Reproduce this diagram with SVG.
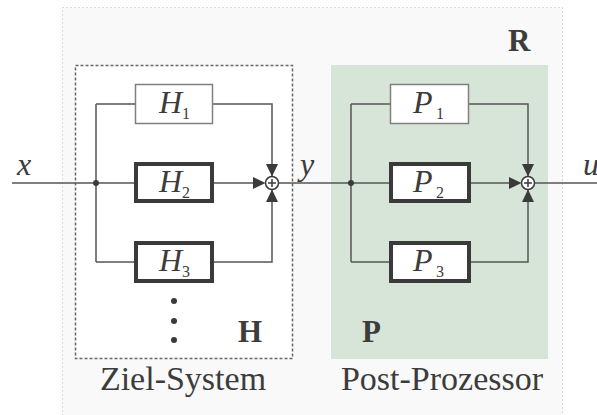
<svg xmlns="http://www.w3.org/2000/svg" width="597" height="415" viewBox="0 0 597 415">
<style>
.ln{stroke:#555;stroke-width:1.5;fill:none}
.thin{fill:#fff;stroke:#808080;stroke-width:1.5}
.thick{fill:#fff;stroke:#3a3a3a;stroke-width:4}
text{font-family:"Liberation Serif","Times New Roman",serif;fill:#3c3c3c}
.it{font-style:italic;font-size:32px}
.sub{font-size:16px}
.bold{font-weight:bold;font-size:31px}
.cap{font-size:34px;text-anchor:middle}
.arr{fill:#3a3a3a}
.sum{fill:#fff;stroke:#3a3a3a;stroke-width:1.5}
.dot{fill:#3a3a3a}
</style>
<g id="R">
<rect x="62.5" y="7.5" width="500" height="420" fill="#f9f9f9" stroke="#bbb" stroke-width="1" stroke-dasharray="1 3"/>
<text class="bold" x="508" y="51">R</text>
</g>
<g id="H">
<rect x="75.5" y="65.5" width="217" height="293" fill="#fff" stroke="#666" stroke-width="1.5" stroke-dasharray="3 2"/>
<text class="bold" x="238" y="342">H</text>
<text class="cap" x="183" y="390">Ziel-System</text>
</g>
<g id="P">
<rect x="331" y="65" width="217" height="294" fill="#d7e5d9"/>
<text class="bold" x="362" y="342">P</text>
<text class="cap" x="442" y="390">Post-Prozessor</text>
</g>
<g id="connectors">
<path class="ln" d="M12 183H134M96 104V262M96 104H135M213 104H272V177M214 183H254M96 262H134M214 262H272V189"/>
<path class="ln" d="M278.5 183H389M351 104V262M351 104H390M469 104H528V177M471 183H510M351 262H389M471 262H528V189M534.5 183H597"/>
<circle class="dot" cx="96" cy="183" r="3"/>
<circle class="dot" cx="351" cy="183" r="3"/>
</g>
<g id="H1"><rect class="thin" x="135.5" y="84.5" width="77" height="39"/><text class="it" x="159" y="113">H</text><text class="sub" x="182" y="119">1</text></g>
<g id="H2"><rect class="thick" x="136" y="164" width="76" height="37"/><text class="it" x="159" y="192">H</text><text class="sub" x="182" y="198">2</text></g>
<g id="H3"><rect class="thick" x="136" y="243" width="76" height="38"/><text class="it" x="159" y="271">H</text><text class="sub" x="182" y="277">3</text></g>
<g id="dots"><circle class="dot" cx="174" cy="301" r="3"/><circle class="dot" cx="174" cy="321" r="3"/><circle class="dot" cx="174" cy="340" r="3"/></g>
<g id="P1"><rect class="thin" x="390.5" y="84.5" width="78" height="39"/><text class="it" x="413" y="113">P</text><text class="sub" x="436" y="119">1</text></g>
<g id="P2"><rect class="thick" x="391" y="164" width="78" height="37"/><text class="it" x="413" y="192">P</text><text class="sub" x="436" y="198">2</text></g>
<g id="P3"><rect class="thick" x="391" y="243" width="78" height="38"/><text class="it" x="413" y="271">P</text><text class="sub" x="436" y="277">3</text></g>
<g id="sumH">
<polygon class="arr" points="253,177 265.5,183 253,189"/>
<polygon class="arr" points="266,164 278,164 272,176.5"/>
<polygon class="arr" points="266,202 278,202 272,189.5"/>
<circle class="sum" cx="272" cy="183" r="6.5"/>
<path stroke="#3a3a3a" stroke-width="1.5" d="M268 183H276M272 179V187"/>
</g>
<g id="sumP">
<polygon class="arr" points="509,177 521.5,183 509,189"/>
<polygon class="arr" points="522,164 534,164 528,176.5"/>
<polygon class="arr" points="522,202 534,202 528,189.5"/>
<circle class="sum" cx="528" cy="183" r="6.5"/>
<path stroke="#3a3a3a" stroke-width="1.5" d="M524 183H532M528 179V187"/>
</g>
<g id="labels">
<text class="it" x="17" y="175">x</text>
<text class="it" x="300" y="175">y</text>
<text class="it" x="583" y="175">u</text>
</g>
</svg>
